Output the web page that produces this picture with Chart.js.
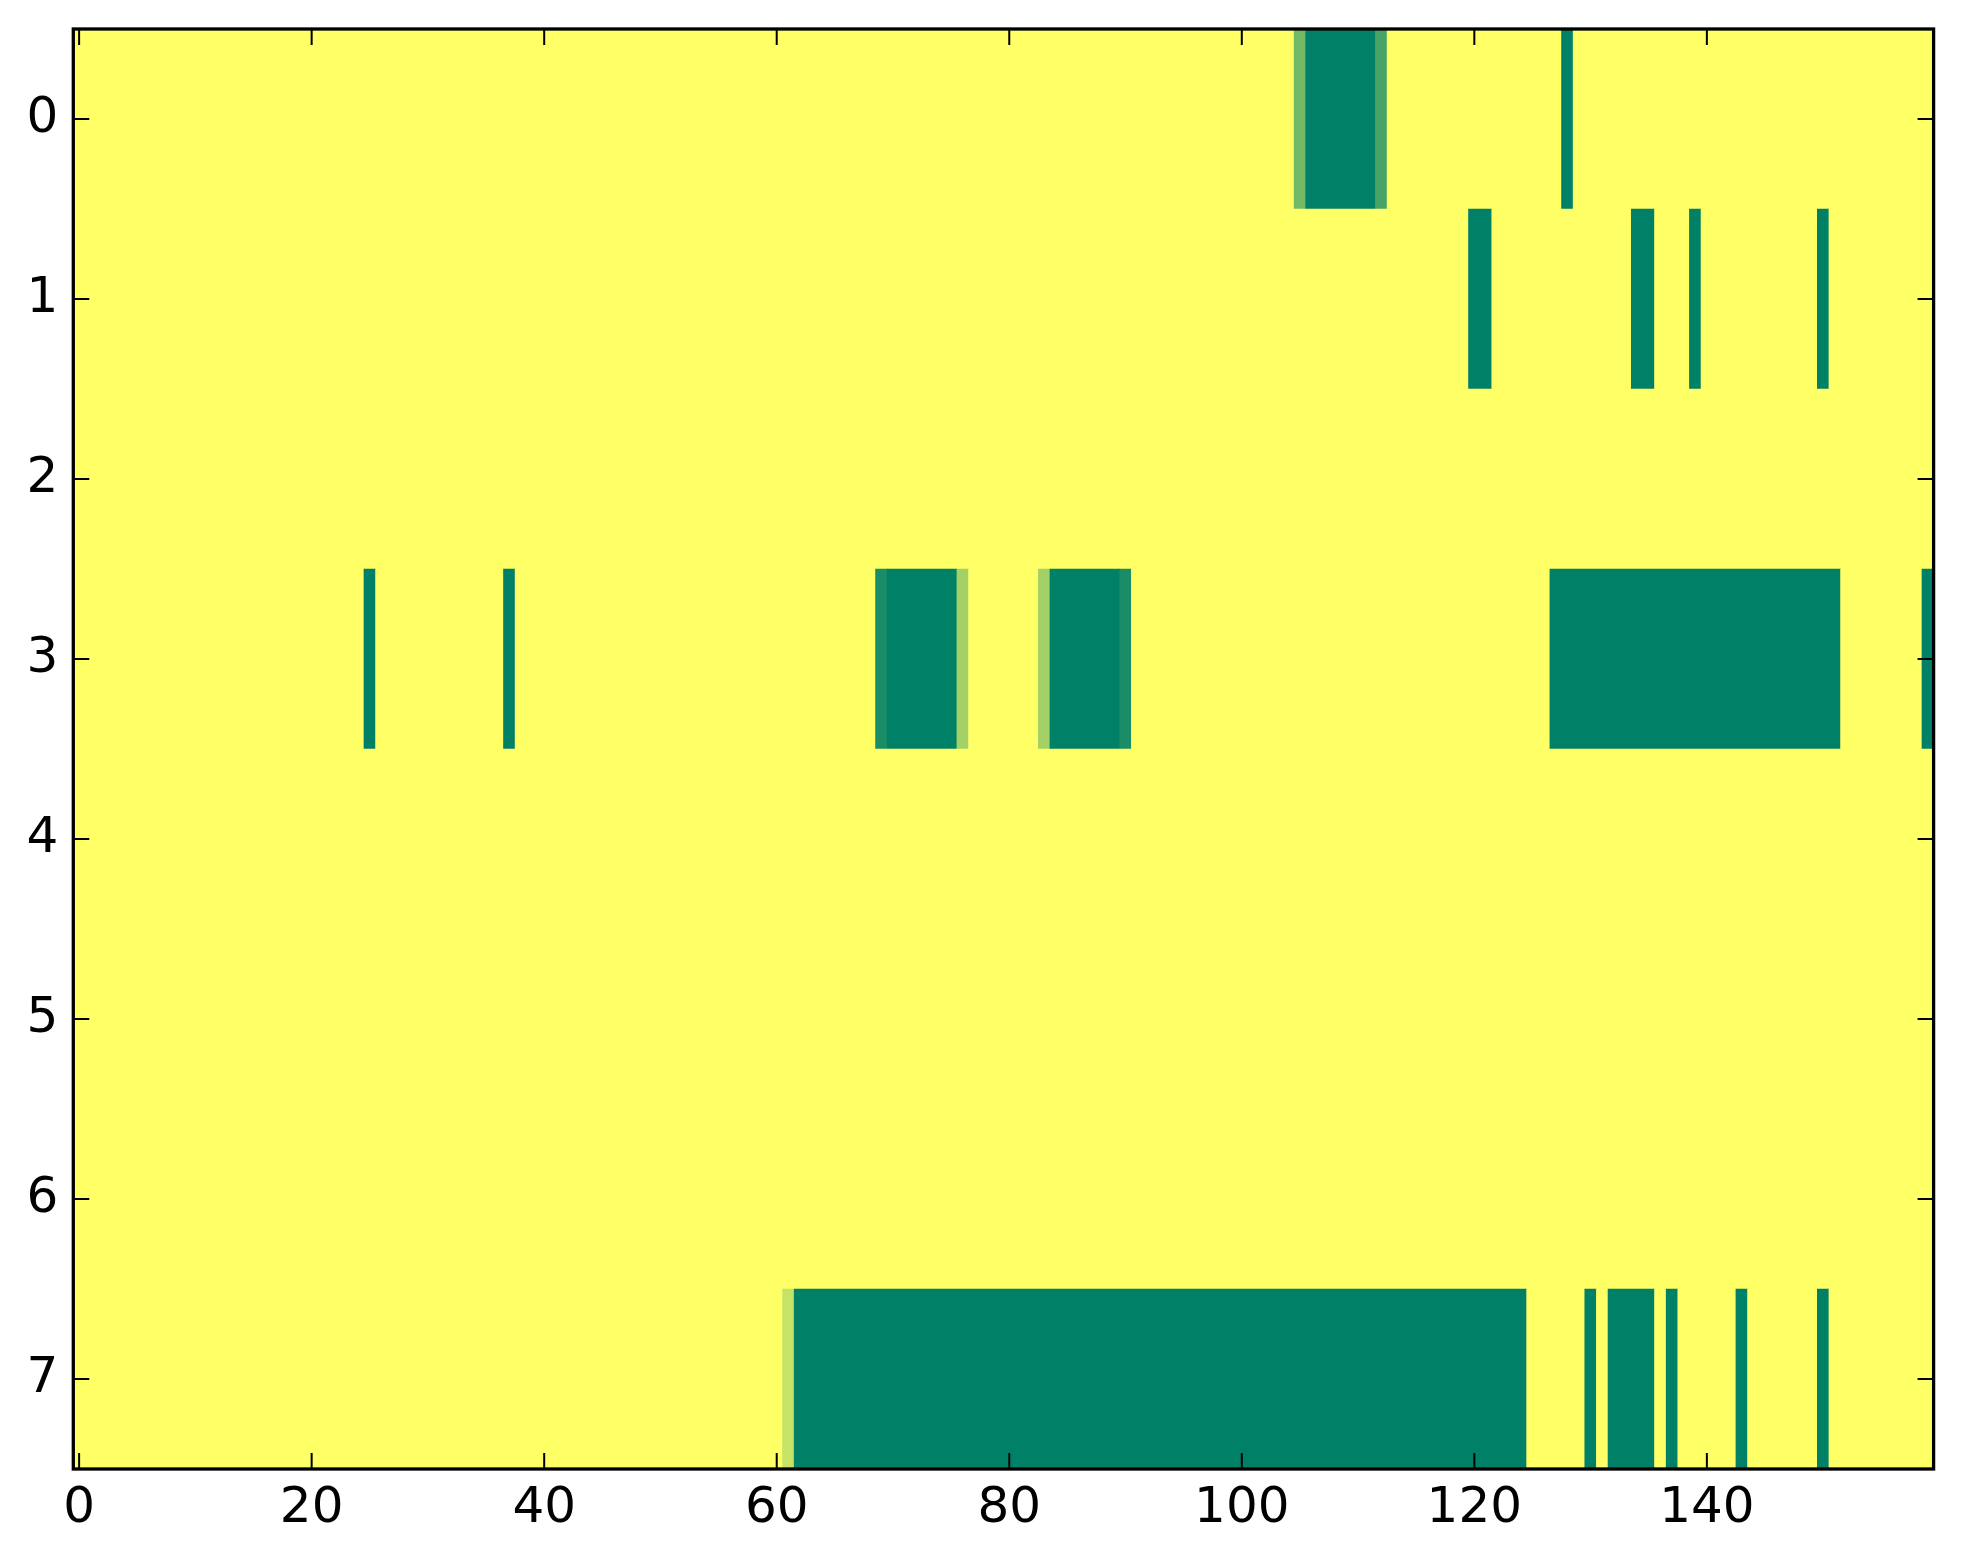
<!DOCTYPE html>
<html>
<head>
<meta charset="utf-8">
<script src="https://cdn.jsdelivr.net/npm/chart.js@4.4.1/dist/chart.umd.min.js"></script>
<style>
  html, body { margin: 0; padding: 0; background: #ffffff; }
  #wrap { width: 1963px; height: 1564px; position: relative; }
</style>
</head>
<body>
<div id="wrap"><canvas id="c"></canvas></div>
<script>
// Row (category) labels of the heatmap
const rowLabels = ['0', '1', '2', '3', '4', '5', '6', '7'];
// x tick labels
const xTickValues = [0, 20, 40, 60, 80, 100, 120, 140];
// x extent (column index range, cells centred on integers)
const xMin = -0.5;
const xMax = 159.5;

// Cell values per row, columns 0..159 (1 = yellow, 0 = dark green)
const row0 = [
  1,1,1,1,1,1,1,1,1,1,1,1,1,1,1,1,1,1,1,1,
  1,1,1,1,1,1,1,1,1,1,1,1,1,1,1,1,1,1,1,1,
  1,1,1,1,1,1,1,1,1,1,1,1,1,1,1,1,1,1,1,1,
  1,1,1,1,1,1,1,1,1,1,1,1,1,1,1,1,1,1,1,1,
  1,1,1,1,1,1,1,1,1,1,1,1,1,1,1,1,1,1,1,1,
  1,1,1,1,1,0.45,0,0,0,0,0,0,0.28,1,1,1,1,1,1,1,
  1,1,1,1,1,1,1,1,0,1,1,1,1,1,1,1,1,1,1,1,
  1,1,1,1,1,1,1,1,1,1,1,1,1,1,1,1,1,1,1,1
];
const row1 = [
  1,1,1,1,1,1,1,1,1,1,1,1,1,1,1,1,1,1,1,1,
  1,1,1,1,1,1,1,1,1,1,1,1,1,1,1,1,1,1,1,1,
  1,1,1,1,1,1,1,1,1,1,1,1,1,1,1,1,1,1,1,1,
  1,1,1,1,1,1,1,1,1,1,1,1,1,1,1,1,1,1,1,1,
  1,1,1,1,1,1,1,1,1,1,1,1,1,1,1,1,1,1,1,1,
  1,1,1,1,1,1,1,1,1,1,1,1,1,1,1,1,1,1,1,1,
  0,0,1,1,1,1,1,1,1,1,1,1,1,1,0,0,1,1,1,0,
  1,1,1,1,1,1,1,1,1,1,0,1,1,1,1,1,1,1,1,1
];
const row2 = [
  1,1,1,1,1,1,1,1,1,1,1,1,1,1,1,1,1,1,1,1,
  1,1,1,1,1,1,1,1,1,1,1,1,1,1,1,1,1,1,1,1,
  1,1,1,1,1,1,1,1,1,1,1,1,1,1,1,1,1,1,1,1,
  1,1,1,1,1,1,1,1,1,1,1,1,1,1,1,1,1,1,1,1,
  1,1,1,1,1,1,1,1,1,1,1,1,1,1,1,1,1,1,1,1,
  1,1,1,1,1,1,1,1,1,1,1,1,1,1,1,1,1,1,1,1,
  1,1,1,1,1,1,1,1,1,1,1,1,1,1,1,1,1,1,1,1,
  1,1,1,1,1,1,1,1,1,1,1,1,1,1,1,1,1,1,1,1
];
const row3 = [
  1,1,1,1,1,1,1,1,1,1,1,1,1,1,1,1,1,1,1,1,
  1,1,1,1,1,0,1,1,1,1,1,1,1,1,1,1,1,0,1,1,
  1,1,1,1,1,1,1,1,1,1,1,1,1,1,1,1,1,1,1,1,
  1,1,1,1,1,1,1,1,1,0.1,0,0,0,0,0,0,0.64,1,1,1,
  1,1,1,0.64,0,0,0,0,0,0,0.1,1,1,1,1,1,1,1,1,1,
  1,1,1,1,1,1,1,1,1,1,1,1,1,1,1,1,1,1,1,1,
  1,1,1,1,1,1,1,0,0,0,0,0,0,0,0,0,0,0,0,0,
  0,0,0,0,0,0,0,0,0,0,0,0,1,1,1,1,1,1,1,0
];
const row4 = [
  1,1,1,1,1,1,1,1,1,1,1,1,1,1,1,1,1,1,1,1,
  1,1,1,1,1,1,1,1,1,1,1,1,1,1,1,1,1,1,1,1,
  1,1,1,1,1,1,1,1,1,1,1,1,1,1,1,1,1,1,1,1,
  1,1,1,1,1,1,1,1,1,1,1,1,1,1,1,1,1,1,1,1,
  1,1,1,1,1,1,1,1,1,1,1,1,1,1,1,1,1,1,1,1,
  1,1,1,1,1,1,1,1,1,1,1,1,1,1,1,1,1,1,1,1,
  1,1,1,1,1,1,1,1,1,1,1,1,1,1,1,1,1,1,1,1,
  1,1,1,1,1,1,1,1,1,1,1,1,1,1,1,1,1,1,1,1
];
const row5 = [
  1,1,1,1,1,1,1,1,1,1,1,1,1,1,1,1,1,1,1,1,
  1,1,1,1,1,1,1,1,1,1,1,1,1,1,1,1,1,1,1,1,
  1,1,1,1,1,1,1,1,1,1,1,1,1,1,1,1,1,1,1,1,
  1,1,1,1,1,1,1,1,1,1,1,1,1,1,1,1,1,1,1,1,
  1,1,1,1,1,1,1,1,1,1,1,1,1,1,1,1,1,1,1,1,
  1,1,1,1,1,1,1,1,1,1,1,1,1,1,1,1,1,1,1,1,
  1,1,1,1,1,1,1,1,1,1,1,1,1,1,1,1,1,1,1,1,
  1,1,1,1,1,1,1,1,1,1,1,1,1,1,1,1,1,1,1,1
];
const row6 = [
  1,1,1,1,1,1,1,1,1,1,1,1,1,1,1,1,1,1,1,1,
  1,1,1,1,1,1,1,1,1,1,1,1,1,1,1,1,1,1,1,1,
  1,1,1,1,1,1,1,1,1,1,1,1,1,1,1,1,1,1,1,1,
  1,1,1,1,1,1,1,1,1,1,1,1,1,1,1,1,1,1,1,1,
  1,1,1,1,1,1,1,1,1,1,1,1,1,1,1,1,1,1,1,1,
  1,1,1,1,1,1,1,1,1,1,1,1,1,1,1,1,1,1,1,1,
  1,1,1,1,1,1,1,1,1,1,1,1,1,1,1,1,1,1,1,1,
  1,1,1,1,1,1,1,1,1,1,1,1,1,1,1,1,1,1,1,1
];
const row7 = [
  1,1,1,1,1,1,1,1,1,1,1,1,1,1,1,1,1,1,1,1,
  1,1,1,1,1,1,1,1,1,1,1,1,1,1,1,1,1,1,1,1,
  1,1,1,1,1,1,1,1,1,1,1,1,1,1,1,1,1,1,1,1,
  1,0.78,0,0,0,0,0,0,0,0,0,0,0,0,0,0,0,0,0,0,
  0,0,0,0,0,0,0,0,0,0,0,0,0,0,0,0,0,0,0,0,
  0,0,0,0,0,0,0,0,0,0,0,0,0,0,0,0,0,0,0,0,
  0,0,0,0,0,1,1,1,1,1,0,1,0,0,0,0,1,0,1,1,
  1,1,1,0,1,1,1,1,1,1,0,1,1,1,1,1,1,1,1,1
];
const rows = [row0, row1, row2, row3, row4, row5, row6, row7];

// matplotlib "summer" colormap
function summer(v) {
  const r = Math.round(255 * v);
  const g = Math.round(255 * (0.5 + 0.5 * v));
  const b = Math.round(255 * 0.4);
  return 'rgb(' + r + ',' + g + ',' + b + ')';
}

// Build floating horizontal bars: merge consecutive equal cells of each row
const points = [];
const colors = [];
rows.forEach(function (vals, ri) {
  let start = 0;
  for (let c = 1; c <= vals.length; c++) {
    if (c === vals.length || vals[c] !== vals[start]) {
      points.push({ x: [start - 0.5, (c - 1) + 0.5], y: rowLabels[ri] });
      colors.push(summer(vals[start]));
      start = c;
    }
  }
});

const FONT = { family: 'DejaVu Sans', size: 50 };

const frame = {
  id: 'frame',
  afterDatasetsDraw(chart) {
    const ctx = chart.ctx;
    const a = chart.chartArea;
    const xs = chart.scales.x, ys = chart.scales.y;
    ctx.save();
    ctx.strokeStyle = '#000';
    ctx.lineWidth = 2;
    const L = 16;
    ctx.beginPath();
    xs.ticks.forEach(function (t) {
      const px = xs.getPixelForValue(t.value);
      ctx.moveTo(px, a.bottom); ctx.lineTo(px, a.bottom - L);
      ctx.moveTo(px, a.top); ctx.lineTo(px, a.top + L);
    });
    ys.ticks.forEach(function (t, i) {
      const py = ys.getPixelForTick(i);
      ctx.moveTo(a.left, py); ctx.lineTo(a.left + L, py);
      ctx.moveTo(a.right, py); ctx.lineTo(a.right - L, py);
    });
    ctx.stroke();
    ctx.lineWidth = 3.3;
    ctx.strokeRect(a.left, a.top, a.right - a.left, a.bottom - a.top);
    ctx.restore();
  }
};

function noPad(scale) {
  scale.paddingTop = 0; scale.paddingBottom = 0;
  scale.paddingLeft = 0; scale.paddingRight = 0;
}

new Chart(document.getElementById('c'), {
  type: 'bar',
  data: {
    labels: rowLabels,
    datasets: [{
      data: points,
      backgroundColor: colors,
      borderWidth: 0,
      barPercentage: 1,
      categoryPercentage: 1
    }]
  },
  options: {
    indexAxis: 'y',
    responsive: true,
    maintainAspectRatio: false,
    animation: false,
    devicePixelRatio: 1,
    layout: { padding: { left: 0, top: 29, right: 29.4, bottom: 0 } },
    plugins: { legend: { display: false }, tooltip: { enabled: false } },
    scales: {
      x: {
        type: 'linear',
        position: 'bottom',
        min: xMin,
        max: xMax,
        afterBuildTicks(scale) { scale.ticks = xTickValues.map(v => ({ value: v })); },
        afterFit(scale) { scale.height = 95; noPad(scale); },
        grid: { display: false, drawTicks: false },
        border: { display: false },
        ticks: { font: FONT, color: '#000', padding: 10, maxRotation: 0, autoSkip: false }
      },
      y: {
        type: 'category',
        offset: true,
        afterFit(scale) { scale.width = 73.3; noPad(scale); },
        grid: { display: false, drawTicks: false, offset: true },
        border: { display: false },
        ticks: { font: FONT, color: '#000', padding: 15 }
      }
    }
  },
  plugins: [frame]
});
</script>
</body>
</html>
